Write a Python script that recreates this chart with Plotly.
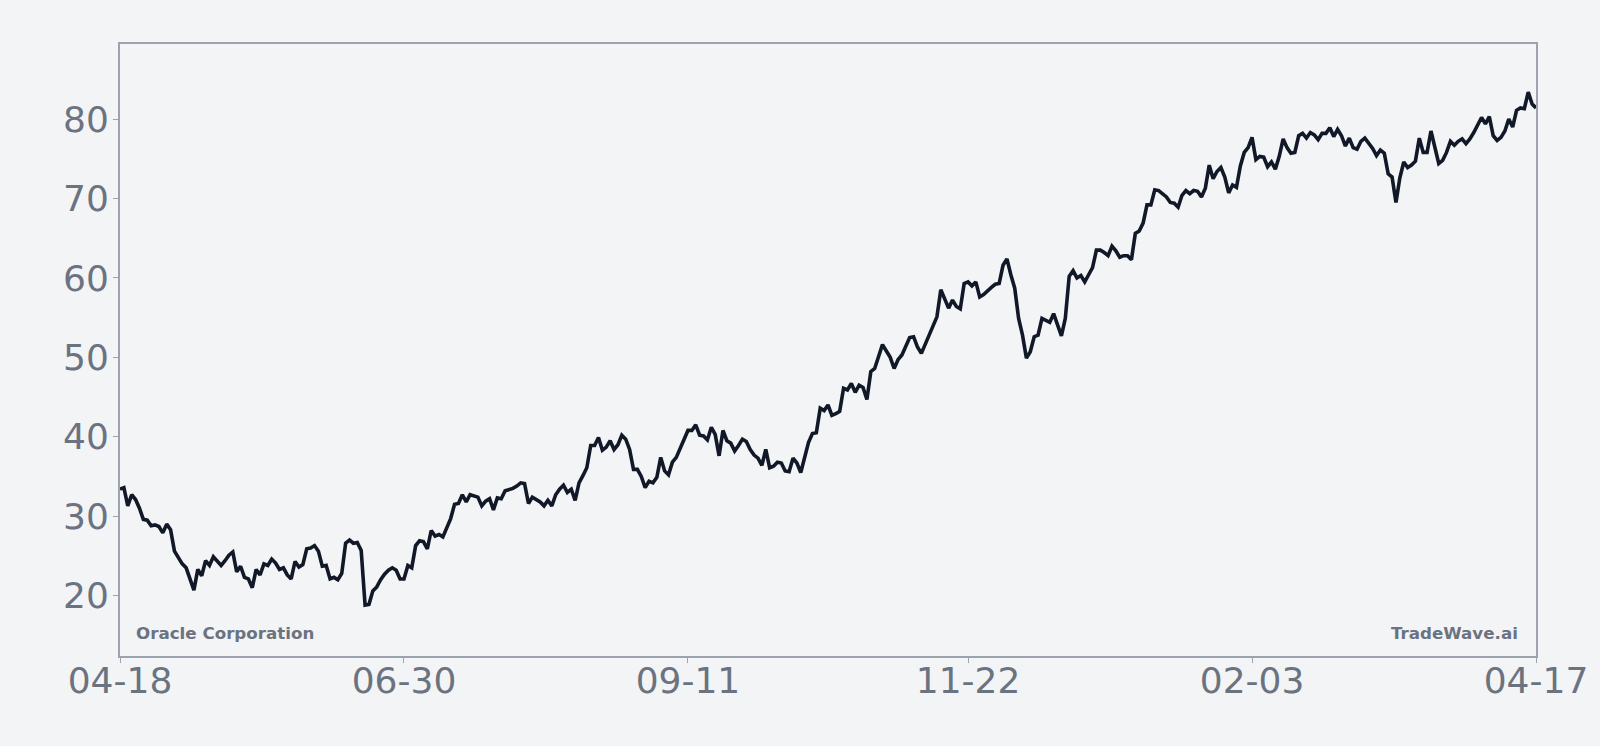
import pandas as pd
import plotly.graph_objects as go

# daily closes, 2024-04-18 .. 2025-04-17
start = "2024-04-18"
prices = [
    33.4, 33.6, 31.3, 32.7, 32.1, 31.0, 29.6, 29.5, 28.8, 28.9,
    28.7, 27.9, 29.0, 28.3, 25.6, 24.7, 24.0, 23.5, 22.0, 20.7,
    23.3, 22.5, 24.4, 23.8, 24.9, 24.4, 23.8, 24.4, 25.1, 25.5,
    23.0, 23.7, 22.3, 22.1, 21.0, 23.3, 22.6, 24.0, 23.8, 24.6,
    24.1, 23.3, 23.5, 22.6, 22.1, 24.3, 23.6, 23.9, 25.9, 26.0,
    26.3, 25.6, 23.7, 23.8, 22.1, 22.3, 22.0, 22.8, 26.6, 27.0,
    26.6, 26.7, 25.7, 18.8, 18.9, 20.6, 21.1,
    22.0, 22.7, 23.2, 23.5, 23.2, 22.1, 22.1, 23.8, 23.5, 26.3,
    26.9, 26.8, 25.9, 28.2, 27.5, 27.7, 27.4, 28.7, 29.7, 31.5,
    31.6, 32.7, 31.8, 32.7, 32.5, 32.4, 31.3, 31.9, 32.2, 30.8,
    32.3, 32.2, 33.2, 33.3, 33.5, 33.8, 34.2, 34.1, 31.6, 32.4,
    32.1, 31.8, 31.3, 32.0, 31.3, 32.7, 33.4, 33.9, 33.0, 33.4,
    32.0, 34.2, 35.1, 36.1, 38.9, 38.9, 39.9, 38.3, 38.7, 39.5,
    38.4, 39.0, 40.2, 39.7, 38.4, 35.9, 35.9,
    35.0, 33.6, 34.4, 34.2, 34.9, 37.4, 35.7, 35.2, 36.8, 37.4,
    38.5, 39.7, 40.8, 40.8, 41.5, 40.2, 40.1, 39.6, 41.2, 40.3,
    37.6, 40.8, 39.5, 39.2, 38.2, 38.9, 39.7, 39.4, 38.4, 37.7,
    37.3, 36.4, 38.4, 36.1, 36.3, 36.8, 36.7, 35.7, 35.6, 37.3,
    36.7, 35.5, 37.3, 39.3, 40.4, 40.5, 43.6, 43.3, 44.0, 42.7,
    42.9, 43.2, 46.1, 45.9, 46.7, 45.6, 46.5, 46.2, 44.7, 48.2,
    48.6, 50.2, 51.6, 50.8, 50.0, 48.6, 49.7,
    50.3, 51.3, 52.5, 52.6, 51.3, 50.5, 51.7, 52.7, 54.1, 55.1,
    58.5, 57.4, 56.2, 57.2, 56.4, 56.1, 59.3, 59.5, 59.0, 59.5,
    57.6, 57.9, 58.4, 58.8, 59.2, 59.3, 61.6, 62.4, 60.4, 58.7,
    54.9, 52.8, 49.9, 50.7, 52.6, 52.8, 54.9, 54.6, 54.4, 55.5,
    54.1, 52.7, 54.9, 60.2, 60.9, 60.0, 60.3, 59.5, 60.4, 61.3,
    63.5, 63.5, 63.2, 62.8, 64.0, 63.4, 62.6,
    62.8, 62.8, 62.3, 65.6, 65.9, 66.9, 69.2, 69.2, 71.1, 71.0,
    70.6, 70.2, 69.5, 69.4, 68.9, 70.4, 71.0, 70.6, 71.0, 70.9,
    70.2, 71.3, 74.2, 72.5, 73.4, 73.9, 72.7, 70.7, 71.7, 71.4,
    74.1, 75.8, 76.4, 77.7, 74.9, 75.3, 75.2, 74.0, 74.6, 73.7,
    75.3, 77.5, 76.4, 75.7, 75.8, 77.9, 78.2, 77.6, 78.3,
    78.0, 77.4, 78.2, 78.2, 78.9, 77.8, 78.7, 77.9, 76.6, 77.6,
    76.4, 76.2, 77.2, 77.6, 77.0, 76.3, 75.4, 76.1, 75.7, 73.1,
    72.7, 69.5, 72.6, 74.6, 73.9, 74.2, 74.7, 77.6, 75.8, 75.8,
    78.5, 76.6, 74.4, 74.8, 75.8, 77.2, 76.7, 77.2, 77.5, 76.9,
    77.5, 78.3, 79.2, 80.2, 79.4, 80.3, 77.9, 77.3, 77.7, 78.5,
    80.0, 79.0, 81.1, 81.4, 81.3, 83.4, 81.9, 81.4,
]
dates = pd.date_range(start, periods=len(prices), freq="D")

tick_idx = [0, 73, 146, 218, 291, 364]
tick_dates = [dates[i] for i in tick_idx]
tick_text = [d.strftime("%m-%d") for d in tick_dates]

BG = "#f3f4f6"
GRID = "#9ca3af"
MUTED = "#6b7280"
FONT = "DejaVu Sans"

fig = go.Figure()
fig.add_trace(go.Scatter(x=dates, y=prices, mode="lines",
                         line=dict(color="#111827", width=3.6)))

fig.update_layout(
    width=1600, height=746,
    paper_bgcolor=BG, plot_bgcolor=BG,
    margin=dict(l=120, r=64, t=44, b=90),
    showlegend=False,
    font=dict(family=FONT, color=MUTED),
)
fig.update_xaxes(
    range=[dates[0], dates[-1]],
    tickvals=tick_dates, ticktext=tick_text,
    showgrid=False, zeroline=False,
    showline=True, mirror=True, linecolor=GRID, linewidth=2,
    ticks="outside", ticklen=5, tickwidth=1, tickcolor=GRID,
    ticklabelstandoff=-13,
    tickfont=dict(family=FONT, size=36, color=MUTED),
)
fig.update_yaxes(
    range=[12.4, 89.45],
    tickvals=[20, 30, 40, 50, 60, 70, 80],
    showgrid=False, zeroline=False,
    showline=True, mirror=True, linecolor=GRID, linewidth=2,
    ticks="outside", ticklen=5, tickwidth=1, tickcolor=GRID,
    ticklabelstandoff=-3,
    tickfont=dict(family=FONT, size=36, color=MUTED),
)

fig.add_annotation(text="<b>Oracle Corporation</b>", xref="paper", yref="paper",
                   x=0.0099, y=0.0376, xanchor="left", yanchor="middle",
                   showarrow=False, font=dict(family=FONT, size=16.7, color=MUTED))
fig.add_annotation(text="<b>TradeWave.ai</b>", xref="paper", yref="paper",
                   x=0.989, y=0.0376, xanchor="right", yanchor="middle",
                   showarrow=False, font=dict(family=FONT, size=16.7, color=MUTED))

# page background/margins so the figure fills the window
page_css = ("document.body.style.margin='0';"
            "document.body.style.overflow='hidden';"
            "document.body.style.background='%s';" % BG)
fig.write_html("out.html", post_script=page_css,
               config={"displayModeBar": False})
